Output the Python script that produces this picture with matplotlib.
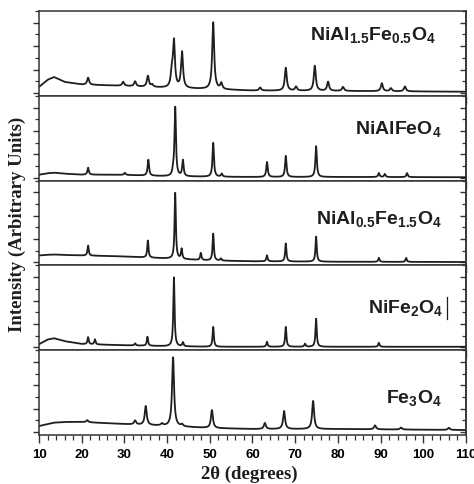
import matplotlib.pyplot as plt
import numpy as np
from matplotlib.ticker import MultipleLocator

plt.rcParams['font.family'] = ['Liberation Sans', 'DejaVu Sans']
plt.rcParams['mathtext.fontset'] = 'custom'
plt.rcParams['mathtext.bf'] = 'Liberation Sans:bold'
plt.rcParams['mathtext.rm'] = 'Liberation Sans:bold'
plt.rcParams['mathtext.default'] = 'bf'

# sample names, top to bottom
labels = [r'NiAl$_{1.5}$Fe$_{0.5}$O$_4$', r'NiAlFeO$_4$',
          r'NiAl$_{0.5}$Fe$_{1.5}$O$_4$', r'NiFe$_2$O$_4$', r'Fe$_3$O$_4$']

# background (counts) read at these 2theta values
bg_x = [10, 12, 13.5, 16, 20, 25, 30, 40, 50, 60, 80, 110]
bg_1 = [256, 560, 680, 470, 360, 330, 300, 214, 160, 100, 85, 50]
bg_2 = [128, 190, 213, 170, 128, 128, 120, 60, 40, 30, 30, 20]
bg_3 = [300, 330, 340, 320, 300, 280, 256, 170, 85, 50, 30, 20]
bg_4 = [128, 330, 385, 260, 140, 110, 85, 43, 20, 20, 20, 20]
bg_5 = [256, 340, 400, 430, 430, 385, 340, 256, 170, 128, 128, 85]

# peak positions (2theta) and net heights (counts)
pos_1 = [21.5, 29.7, 32.5, 35.5, 36.5, 41.1, 41.6, 43.5, 50.8, 52.7, 61.8,
         67.8, 70.2, 74.6, 77.7, 81.2, 90.3, 92.4, 95.7]
hgt_1 = [300, 170, 210, 470, 100, 600, 1960, 1540, 2860, 256, 130,
         980, 170, 1070, 385, 170, 340, 130, 210]
pos_2 = [21.5, 30.1, 35.6, 41.4, 41.9, 43.7, 50.8, 52.8, 63.4, 67.8, 74.9,
         89.6, 91.0, 96.2]
hgt_2 = [300, 90, 680, 170, 2950, 680, 1450, 130, 640, 900, 1320,
         170, 130, 170]
pos_3 = [21.5, 35.5, 41.9, 43.4, 47.9, 50.8, 52.6, 63.4, 67.8, 74.9, 89.6, 96.0]
hgt_3 = [430, 730, 2820, 430, 300, 1150, 90, 256, 770, 1070, 170, 170]
pos_4 = [21.5, 23.1, 32.5, 35.4, 41.6, 43.7, 50.8, 63.4, 67.8, 72.3, 74.9, 89.6]
hgt_4 = [300, 213, 90, 385, 2950, 170, 850, 213, 850, 130, 1200, 170]
pos_5 = [21.3, 32.5, 35.0, 38.8, 41.4, 43.5, 50.5, 62.9, 67.4, 74.2, 88.7,
         94.8, 106.0]
hgt_5 = [90, 170, 810, 85, 2950, 85, 770, 256, 770, 1200, 170, 85, 90]

fwhm = [0.55, 0.4, 0.35, 0.35, 0.55]

backgrounds = [bg_1, bg_2, bg_3, bg_4, bg_5]
positions = [pos_1, pos_2, pos_3, pos_4, pos_5]
heights = [hgt_1, hgt_2, hgt_3, hgt_4, hgt_5]
label_xy = [(0.93, 0.73), (0.944, 0.62), (0.944, 0.565), (0.948, 0.51),
            (0.944, 0.45)]

two_theta = np.linspace(10, 110, 5001)

fig, axes = plt.subplots(5, 1, sharex=True, figsize=(4.74, 4.85), dpi=100)
fig.subplots_adjust(left=0.0823, right=0.983, top=0.975, bottom=0.101,
                    hspace=0)

for i, ax in enumerate(axes):
    y = np.interp(two_theta, bg_x, backgrounds[i])
    g = fwhm[i] / 2
    for p, h in zip(positions[i], heights[i]):
        y = y + h * g**2 / ((two_theta - p)**2 + g**2)
    ax.plot(two_theta, y, color='#1e1e1e', linewidth=1.3)

    ax.set_xlim(10, 110)
    ax.set_ylim(-128, 3500)
    ax.xaxis.set_major_locator(MultipleLocator(10))
    ax.xaxis.set_minor_locator(MultipleLocator(2))
    ax.yaxis.set_major_locator(MultipleLocator(1000))
    ax.yaxis.set_minor_locator(MultipleLocator(500))
    ax.tick_params(axis='x', which='major', direction='out', length=6,
                   width=1, color='#333333', top=False, labelsize=9.5, pad=3)
    ax.tick_params(axis='x', which='minor', direction='out', length=3.5,
                   width=0.9, color='#333333', top=False)
    ax.tick_params(axis='y', which='major', direction='out', length=4.5,
                   width=1, color='#333333', labelleft=False, right=False)
    ax.tick_params(axis='y', which='minor', direction='out', length=3,
                   width=0.9, color='#333333', right=False)
    sec = ax.secondary_yaxis('right')
    sec.yaxis.set_major_locator(MultipleLocator(1000))
    sec.yaxis.set_minor_locator(MultipleLocator(500))
    sec.tick_params(axis='y', which='major', direction='in', length=4.5,
                    width=1, color='#333333', labelright=False)
    sec.tick_params(axis='y', which='minor', direction='in', length=3,
                    width=0.9, color='#333333')
    for s in list(ax.spines.values()) + list(sec.spines.values()):
        s.set_linewidth(1.1)
        s.set_color('#333333')

    tx, ty = label_xy[i]
    ax.text(tx, ty, labels[i], transform=ax.transAxes, ha='right',
            va='center', fontsize=14, fontweight='bold', color='#1e1e1e')

    if i < 4:
        ax.tick_params(axis='x', labelbottom=False)
    else:
        for t in ax.get_xticklabels():
            t.set_fontweight('bold')

# stray cursor mark next to the NiFe2O4 label
axes[3].plot([0.955, 0.955], [0.37, 0.63], transform=axes[3].transAxes,
             color='#1e1e1e', linewidth=0.9)

fig.text(0.036, 0.538, 'Intensity (Arbitrary Units)', rotation=90,
         ha='center', va='center', fontsize=13.5, fontweight='bold',
         family='Liberation Serif', color='#1e1e1e')
fig.text(0.527, 0.021, '2θ (degrees)', ha='center', va='center',
         fontsize=13.5, fontweight='bold', family='Liberation Serif',
         color='#1e1e1e')

plt.savefig('out.png', dpi=100)
